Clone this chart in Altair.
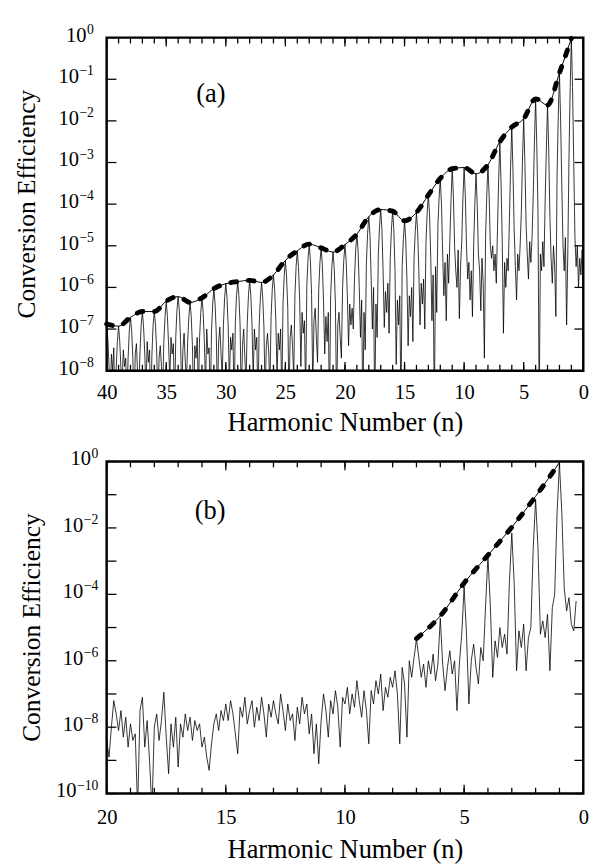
import altair as alt
import numpy as np
import pandas as pd

FONT = "'Liberation Serif', Tinos, 'Times New Roman', Times, 'DejaVu Serif', serif"

# ---------------- panel (a) data (log10 of conversion efficiency) ----------------
a_env_n = list(range(40, 0, -1))
a_env_lg = [-6.88, -6.93, -6.72, -6.58, -6.58, -6.33, -6.22, -6.36, -6.25, -6.03,
            -5.91, -5.86, -5.83, -5.88, -5.70, -5.35, -5.12, -4.96, -5.05, -5.15,
            -4.97, -4.72, -4.30, -4.13, -4.17, -4.40, -4.20, -3.78, -3.38, -3.15,
            -3.12, -3.27, -3.05, -2.50, -2.15, -1.95, -1.47, -1.62, -0.85, -0.02]

# trace sampled every 0.1 harmonic, from n = 40.0 down to n = 0.0
a_trace_n = np.round(np.linspace(40.0, 0.0, 401), 1)
a_trace_lg = [
    -6.88, -7.23, -7.90, -8.60, -7.60, -8.00, -7.45, -8.90, -7.95, -7.30,
    -6.93, -7.30, -7.95, -8.30, -7.50, -7.90, -7.70, -8.70, -7.70, -7.05,
    -6.72, -7.05, -7.70, -9.00, -7.60, -7.35, -8.10, -8.40, -7.55, -6.90,
    -6.58, -6.95, -7.60, -8.50, -7.30, -7.80, -7.50, -9.00, -7.60, -6.90,
    -6.58, -6.90, -7.55, -8.80, -7.70, -7.40, -7.90, -8.50, -7.30, -6.70,
    -6.33, -6.70, -7.40, -8.20, -7.20, -7.60, -7.35, -8.90, -7.20, -6.55,
    -6.22, -6.55, -7.25, -8.60, -7.50, -7.10, -7.80, -8.30, -7.30, -6.70,
    -6.36, -6.70, -7.40, -9.00, -7.40, -7.70, -7.20, -8.60, -7.20, -6.60,
    -6.25, -6.60, -7.30, -8.40, -7.00, -7.60, -7.45, -8.80, -7.05, -6.40,
    -6.03, -6.40, -7.10, -8.70, -7.30, -6.95, -7.60, -8.20, -6.90, -6.25,
    -5.91, -6.25, -6.95, -8.30, -7.20, -7.50, -7.10, -8.90, -6.85, -6.20,
    -5.86, -6.20, -6.90, -8.80, -7.40, -7.00, -7.70, -8.30, -6.85, -6.20,
    -5.83, -6.20, -6.90, -8.20, -7.00, -7.50, -7.20, -9.00, -6.90, -6.25,
    -5.88, -6.25, -6.95, -8.60, -7.40, -7.10, -7.55, -8.40, -6.70, -6.05,
    -5.70, -6.05, -6.80, -8.10, -7.10, -7.50, -7.00, -8.70, -6.40, -5.72,
    -5.35, -5.75, -6.50, -8.80, -7.20, -6.90, -7.40, -8.20, -6.20, -5.50,
    -5.12, -5.50, -6.30, -7.90, -6.60, -7.10, -6.80, -8.60, -5.95, -5.32,
    -4.96, -5.35, -6.20, -8.40, -6.80, -6.50, -7.20, -7.80, -6.05, -5.40,
    -5.05, -5.45, -6.30, -7.60, -6.70, -7.30, -6.60, -9.00, -6.20, -5.50,
    -5.15, -5.55, -6.40, -9.00, -6.90, -6.60, -7.20, -7.70, -6.00, -5.35,
    -4.97, -5.35, -6.20, -7.40, -6.40, -6.90, -6.50, -7.00, -5.80, -5.10,
    -4.72, -5.10, -6.00, -7.20, -6.30, -9.00, -6.60, -7.50, -5.40, -4.70,
    -4.30, -4.75, -5.80, -7.00, -6.00, -9.00, -6.40, -7.20, -5.20, -4.55,
    -4.13, -4.60, -5.60, -6.96, -6.10, -6.60, -5.90, -7.10, -5.30, -4.60,
    -4.17, -4.60, -5.60, -7.85, -6.30, -6.90, -6.20, -9.00, -5.50, -4.85,
    -4.40, -4.85, -5.80, -7.40, -6.20, -6.70, -6.00, -7.30, -5.30, -4.65,
    -4.20, -4.65, -5.60, -6.90, -5.90, -6.40, -5.80, -7.00, -4.90, -4.20,
    -3.78, -4.25, -5.30, -6.80, -5.70, -9.00, -5.50, -6.60, -4.50, -3.85,
    -3.38, -4.00, -5.20, -6.20, -5.40, -6.80, -5.20, -5.90, -4.90, -3.90,
    -3.15, -3.80, -5.00, -5.60, -6.00, -5.10, -6.75, -5.50, -4.90, -3.85,
    -3.12, -3.80, -5.00, -5.80, -5.40, -6.30, -5.60, -6.70, -5.00, -4.00,
    -3.27, -4.00, -5.20, -5.60, -6.56, -5.30, -5.90, -7.70, -4.80, -3.80,
    -3.05, -3.80, -5.00, -5.30, -5.00, -5.60, -5.20, -5.90, -4.60, -3.40,
    -2.50, -3.50, -4.90, -7.10, -5.40, -6.00, -5.30, -5.60, -4.40, -3.10,
    -2.15, -3.20, -4.60, -5.50, -6.30, -5.20, -5.60, -5.00, -4.20, -2.90,
    -1.95, -3.00, -4.50, -5.20, -5.80, -4.90, -5.40, -4.80, -3.80, -2.50,
    -1.47, -2.60, -4.20, -9.00, -5.20, -5.60, -4.90, -5.50, -3.90, -2.70,
    -1.62, -2.70, -4.30, -5.30, -5.90, -5.00, -5.50, -6.70, -3.30, -1.90,
    -0.85, -2.00, -3.60, -5.00, -5.60, -4.80, -6.90, -5.20, -2.90, -1.20,
    -0.02, -1.20, -3.00, -4.80, -5.50, -5.00, -6.00, -5.30, -5.70, -5.10,
    -5.40,
]

# ---------------- panel (b) data ----------------
b_env_n = [7, 6, 5, 4, 3, 2, 1]
b_env_lg = [-5.33, -4.65, -3.66, -2.82, -1.98, -1.05, -0.03]

# trace sampled every 0.1 harmonic, from n = 20.0 down to n = 0.3
b_trace_n = np.round(np.linspace(20.0, 0.3, 198), 1)
b_trace_lg = [
    -8.40, -8.90, -8.00, -7.20, -7.60, -8.10, -7.50, -8.30, -7.70, -8.60,
    -7.90, -8.40, -8.20, -10.5, -7.50, -7.10, -8.60, -7.80, -9.00, -10.5,
    -8.00, -7.60, -8.40, -7.80, -6.95, -8.30, -9.40, -7.90, -8.60, -7.70,
    -9.20, -7.90, -8.30, -7.60, -8.10, -7.70, -8.40, -7.80, -8.10, -7.90,
    -8.60, -8.30, -8.90, -9.30, -8.50, -7.90, -7.60, -8.10, -7.50, -7.80,
    -7.30, -7.80, -7.20, -7.60, -8.20, -8.80, -7.40, -7.70, -7.10, -7.90,
    -7.50, -7.20, -8.00, -7.40, -7.80, -7.10, -7.60, -8.30, -7.30, -7.70,
    -7.20, -7.60, -7.90, -7.00, -7.50, -8.10, -7.30, -7.80, -7.60, -8.40,
    -7.40, -7.90, -7.10, -7.60, -7.30, -8.20, -7.60, -8.80, -7.90, -9.10,
    -7.80, -7.00, -7.50, -8.30, -7.20, -7.60, -6.90, -7.40, -8.60, -7.10,
    -7.30, -6.80, -7.60, -7.00, -7.40, -6.60, -7.20, -7.70, -6.90, -7.50,
    -8.50, -6.90, -7.30, -6.60, -7.00, -6.40, -7.50, -6.80, -7.10, -6.50,
    -6.80, -6.30, -7.00, -8.50, -6.20, -6.70, -8.30, -6.00, -6.50, -5.90,
    -5.35, -5.90, -6.50, -6.10, -6.80, -6.00, -6.40, -5.80, -6.60, -6.10,
    -4.72, -6.10, -6.90, -6.20, -5.70, -6.40, -6.00, -7.50, -6.10, -5.20,
    -3.78, -5.20, -7.30, -6.00, -5.50, -6.20, -6.70, -5.60, -6.00, -4.35,
    -2.85, -4.35, -6.50, -5.40, -5.90, -5.00, -5.60, -5.20, -5.80, -3.65,
    -2.15, -3.65, -6.30, -5.10, -5.60, -4.90, -6.30, -5.30, -5.00, -2.60,
    -1.14, -2.60, -5.20, -4.80, -5.30, -4.60, -6.30, -4.40, -4.00, -1.55,
    -0.06, -1.55, -3.80, -4.50, -4.10, -4.90, -5.10, -4.20,
]

# ---------------- ticks / labels ----------------
a_x_minor = list(range(0, 41))
a_x_major = [0, 5, 10, 15, 20, 25, 30, 35, 40]
a_y_ticks = [0, -1, -2, -3, -4, -5, -6, -7, -8]
a_y_labels = [0, -1, -2, -3, -4, -5, -6, -7, -8]

b_x_minor = list(range(0, 21))
b_x_major = [0, 5, 10, 15, 20]
b_y_ticks = [0, -1, -2, -3, -4, -5, -6, -7, -8, -9, -10]
b_y_labels = [0, -2, -4, -6, -8, -10]

Y_TITLE = "Conversion Efficiency"
X_TITLE = "Harmonic Number (n)"


def panel(tr_n, tr_lg, env_n, env_lg, xmax, ymin, W, H, x_minor, x_major,
          y_ticks, y_labels, lab_gap, ytitle_x, tag, tag_n, tag_lg,
          label_pad, title_pad):
    xs = alt.Scale(domain=[0, xmax], reverse=True, nice=False, zero=False)
    ys = alt.Scale(domain=[ymin, 0], nice=False, zero=False)
    x_enc = alt.X(
        "n:Q", scale=xs,
        axis=alt.Axis(values=x_major, format="d", title=X_TITLE, ticks=False,
                      tickSize=0, domain=False, grid=False, labelFont=FONT,
                      labelFontSize=21, labelColor="black", labelPadding=label_pad,
                      labelFlush=False, labelOverlap=False, titleFont=FONT,
                      titleFontSize=27, titleFontWeight="normal",
                      titleColor="black", titlePadding=title_pad))
    y_enc = alt.Y("lg:Q", scale=ys, axis=None)

    tr = pd.DataFrame({"n": tr_n, "lg": tr_lg})
    env = pd.DataFrame({"n": env_n, "lg": env_lg})

    trace = alt.Chart(tr).mark_line(clip=True, color="black", strokeWidth=0.8).encode(
        x=x_enc, y=y_enc)
    env_thin = alt.Chart(env).mark_line(interpolate="monotone", color="black",
                                        strokeWidth=1).encode(x=x_enc, y=y_enc)
    env_dash = alt.Chart(env).mark_line(interpolate="monotone", color="black",
                                        strokeWidth=5, strokeDash=[6, 12],
                                        strokeCap="round").encode(x=x_enc, y=y_enc)

    minor = pd.DataFrame({"n": x_minor})
    major = pd.DataFrame({"n": x_major})
    yt = pd.DataFrame({"lg": y_ticks})
    rule = dict(color="black", strokeWidth=1.3)
    t_top_min = alt.Chart(minor).mark_rule(**rule).encode(
        x=x_enc, y=alt.value(0), y2=alt.value(6))
    t_top_maj = alt.Chart(major).mark_rule(**rule).encode(
        x=x_enc, y=alt.value(0), y2=alt.value(9))
    t_bot_min = alt.Chart(minor).mark_rule(**rule).encode(
        x=x_enc, y=alt.value(H), y2=alt.value(H - 6))
    t_bot_maj = alt.Chart(major).mark_rule(**rule).encode(
        x=x_enc, y=alt.value(H), y2=alt.value(H - 9))
    t_left = alt.Chart(yt).mark_rule(**rule).encode(
        y=y_enc, x=alt.value(0), x2=alt.value(10))
    t_right = alt.Chart(yt).mark_rule(**rule).encode(
        y=y_enc, x=alt.value(W), x2=alt.value(W - 9))

    yl = pd.DataFrame({"lg": y_labels})
    base = alt.Chart(yl).transform_calculate(
        bx=f"-{lab_gap} - (datum.lg == 0 ? 7 : (datum.lg > -10 ? 14.9 : 21.9)) - 0.5"
    ).mark_text(text="10", align="right", baseline="alphabetic", dy=4,
                font=FONT, fontSize=21, color="black").encode(
        y=y_enc, x=alt.X("bx:Q", scale=None, axis=None))
    expo = alt.Chart(yl).transform_calculate(
        es="datum.lg == 0 ? '0' : '\u2212' + (-datum.lg)"
    ).mark_text(align="right", baseline="alphabetic", dy=-4, font=FONT,
                fontSize=14, color="black").encode(
        y=y_enc, x=alt.value(-lab_gap), text="es:N")

    ytitle = alt.Chart(pd.DataFrame({"t": [Y_TITLE]})).mark_text(
        angle=270, align="center", baseline="alphabetic", font=FONT,
        fontSize=26, color="black").encode(
        x=alt.value(ytitle_x), y=alt.value(H / 2), text="t:N")

    tagc = alt.Chart(pd.DataFrame({"n": [tag_n], "lg": [tag_lg], "t": [tag]})).mark_text(
        align="center", baseline="alphabetic", font=FONT, fontSize=27,
        color="black").encode(x=x_enc, y=y_enc, text="t:N")

    return alt.layer(trace, env_thin, env_dash, t_top_min, t_top_maj, t_bot_min,
                     t_bot_maj, t_left, t_right, base, expo, ytitle, tagc).properties(
        width=W, height=H)


pa = panel(a_trace_n, a_trace_lg, a_env_n, a_env_lg, 40, -8, 488, 341,
           a_x_minor, a_x_major, a_y_ticks, a_y_labels, 13, -73, "(a)", 31.25, -1.55,
           11, 8)
pb = panel(b_trace_n, b_trace_lg, b_env_n, b_env_lg, 20, -10, 488, 340,
           b_x_minor, b_x_major, b_y_ticks, b_y_labels, 8.5, -68, "(b)", 15.66, -1.74,
           14, 9)

chart = alt.vconcat(pa, pb, spacing=8).properties(
    padding={"left": 5, "top": 3, "right": 5, "bottom": 0}
).configure_view(stroke="black", strokeWidth=2.5)

chart.save("out.html", embed_options={"renderer": "svg", "actions": False})
